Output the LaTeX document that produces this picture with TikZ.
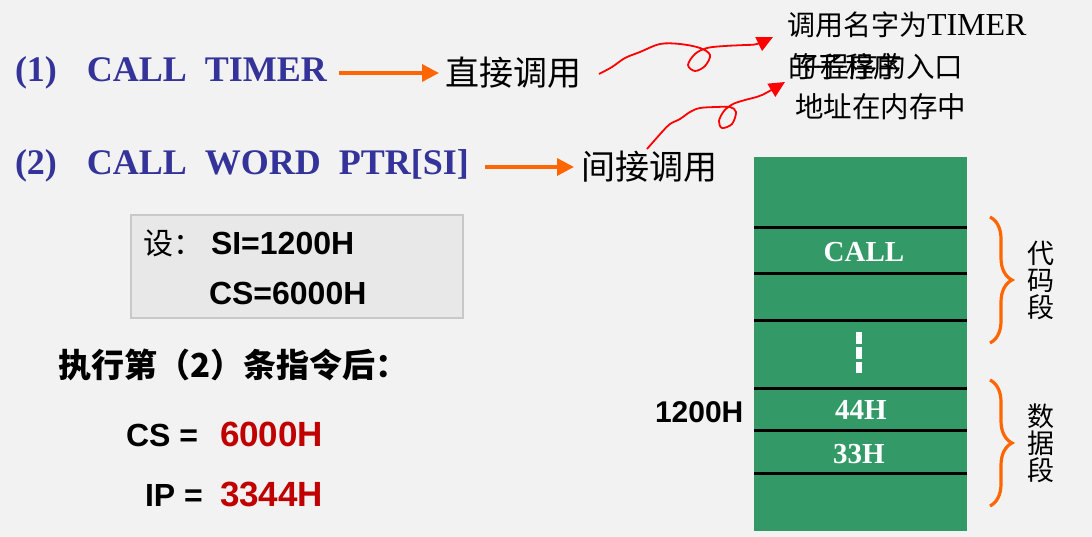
\documentclass[tikz,border=0pt]{standalone}
\usepackage{fontspec}
\setmainfont{Liberation Serif}
\newfontfamily\cjk{Noto Sans CJK SC}
\newfontfamily\arial{Liberation Sans}
\usetikzlibrary{arrows.meta,decorations.pathreplacing}
\definecolor{bg}{HTML}{F2F2F2}
\definecolor{ttblue}{HTML}{333399}
\definecolor{oline}{HTML}{FF6600}
\definecolor{valred}{HTML}{C00000}
\definecolor{memgreen}{HTML}{339966}
\definecolor{boxfill}{HTML}{E8E8E8}
\definecolor{boxline}{HTML}{C8C8C8}
\newcommand\fsz[1]{\fontsize{#1}{#1}\selectfont}
\tikzset{
  every node/.style={inner sep=0pt, outer sep=0pt},
  bluetxt/.style={text=ttblue, font=\fsz{36}\bfseries},
  cjktxt/.style={font=\cjk\fsz{34}},
  oarrow/.style={draw=oline, line width=3.5pt, -{Triangle[length=17pt,width=17pt]}},
  rarrow/.style={draw=red, line width=1.8pt, -{Triangle[length=16pt,width=15pt]}},
  annot/.style={font=\cjk\fsz{28.5}, anchor=west},
  graybox/.style={draw=boxline, fill=boxfill, line width=2pt},
  arialb/.style={font=\arial\bfseries\fsz{32}},
  redval/.style={text=valred, font=\arial\bfseries\fsz{35}},
  memblk/.style={fill=memgreen},
  sepline/.style={draw=black, line width=3pt},
  memtxt/.style={text=white, font=\bfseries\fsz{29}},
  obrace/.style={draw=oline, line width=3.2pt, decorate, decoration={brace, amplitude=22pt}},
  seglbl/.style={font=\cjk\fsz{27}, align=center}
}
\begin{document}
\begin{tikzpicture}[x=1pt,y=-1pt]
\fill[bg] (0,0) rectangle (1092,537);
\useasboundingbox (0,0) rectangle (1092,537);

% instruction lines
\node[bluetxt, anchor=base west] (t1) at (15,82) {\makebox[72pt][l]{(1)}CALL\hspace{18pt}TIMER};
\node[bluetxt, anchor=base west] (t2) at (15,175) {\makebox[72pt][l]{(2)}CALL\hspace{18pt}WORD\hspace{18pt}PTR[SI]};
\node[cjktxt, anchor=west] (d1) at (445,73) {直接调用};
\node[cjktxt, anchor=west] (d2) at (581,167) {间接调用};
\draw[oarrow, shorten <=12pt, shorten >=6pt] (t1.east |- d1.west) -- (d1.west);
\draw[oarrow, shorten <=16pt, shorten >=7pt] (t2.east |- d2.west) -- (d2.west);

% annotation
\node[font=\cjk\fsz{28}, anchor=west] (a1) at (787,25) {调用名字为{\rmfamily\fsz{32}TIMER}};
\node[annot] (a2a) at (788,67) {的子程序};
\node[annot] (a2b) at (792,67) {子程序的入口};
\node[annot] (a3) at (795,107) {地址在内存中};

% red scribbled arrows
\draw[rarrow] plot[smooth, tension=0.55] coordinates {(599,74) (612,67) (625,58) (640,52) (660,44) (680,44) (700,48) (710,55) (705,66) (695,71) (688,65) (695,54) (707,48) (725,46) (745,45) (757,44) (773,37)};
\draw[rarrow] plot[smooth, tension=0.55] coordinates {(647,149) (662,132) (670,124) (680,119) (690,112) (700,108) (717,107) (730,107) (736,112) (732,124) (722,128) (719,121) (724,111) (733,104) (745,100) (762,95) (785,82)};

% given values box
\node[graybox, minimum width=332pt, minimum height=103pt, anchor=north west] (box) at (131,215) {};
\node[font=\cjk\fsz{30}, anchor=west] (she) at (143,243) {设：};
\node[arialb, anchor=base west] (si) at (211,255) {SI=1200H};
\node[arialb, anchor=base west] (cs0) at (209,305) {CS=6000H};

% result
\node[font=\cjk\bfseries\fsz{33}, anchor=west] (res) at (58,365) {执行第（2）条指令后：};
\node[arialb, anchor=base west] (csl) at (126,446) {CS =};
\node[redval, anchor=base west] (csv) at (220,446) {6000H};
\node[arialb, anchor=base west] (ipl) at (145,506) {IP =};
\node[redval, anchor=base west] (ipv) at (220,506) {3344H};

% memory block
\node[memblk, minimum width=213pt, minimum height=374pt, anchor=north west] (mem) at (754,157) {};
\foreach \yy in {228,274,320,388,430,473}
  \draw[sepline] (754,\yy) -- (967,\yy);
\node[memtxt] (call) at (864,252) {CALL};
\node[memtxt] (b44) at (861,410) {44H};
\node[memtxt] (b33) at (859,454) {33H};
\draw[white, line width=6.5pt, dash pattern=on 11.5pt off 3.5pt] (859,332) -- (859,373);
\node[font=\arial\bfseries\fsz{30}, anchor=base west] (addr) at (655,422) {1200H};

% braces
\draw[obrace] (990,217) -- (990,343);
\draw[obrace] (990,380) -- (990,506);
\node[seglbl] (lcode) at (1041,280) {\fontsize{27}{37}\selectfont 代\\码\\段};
\node[seglbl] (ldata) at (1041,443) {\fontsize{27}{37}\selectfont 数\\据\\段};
\end{tikzpicture}
\end{document}
